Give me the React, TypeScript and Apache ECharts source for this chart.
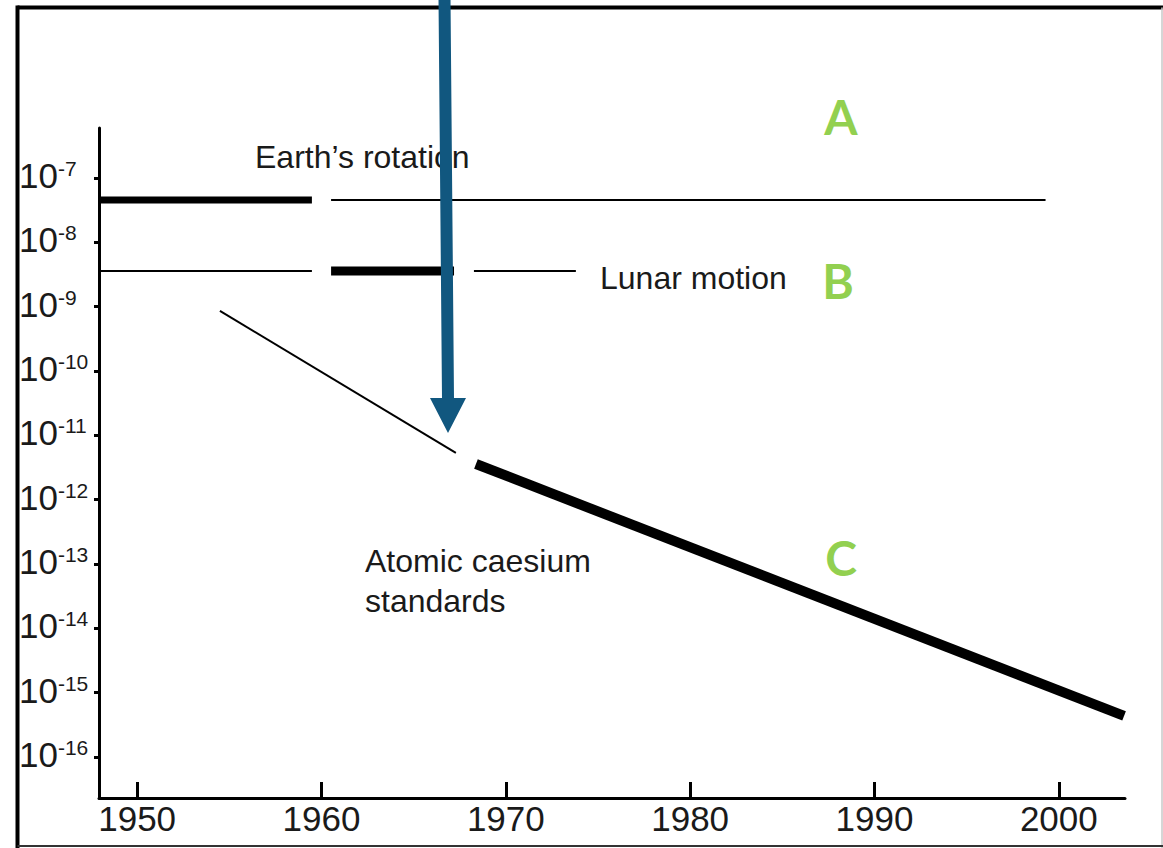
import React, { useEffect, useRef } from "react";
import * as echarts from "echarts";

// ---- data (years vs. relative accuracy) ----
const yearTicks = [1950, 1960, 1970, 1980, 1990, 2000];
const exponentTicks = [-16, -15, -14, -13, -12, -11, -10, -9, -8, -7];
const xRange = [1947.93, 2003.59];
const yRange = [2.3e-17, 5.98e-7];

const earthThick = [[1947.93, 4.55e-8], [1959.48, 4.55e-8]];
const earthThin = [[1960.52, 4.55e-8], [1999.28, 4.55e-8]];
const lunarThin1 = [[1947.93, 3.58e-9], [1959.48, 3.58e-9]];
const lunarThick = [[1960.52, 3.58e-9], [1967.19, 3.58e-9]];
const lunarThin2 = [[1968.27, 3.58e-9], [1973.8, 3.58e-9]];
const caesiumThin = [[1954.49, 8.57e-10], [1967.29, 5.31e-12]];
const caesiumThick = [[1968.38, 3.58e-12], [2003.54, 4.34e-16]];

const FONT = "'Liberation Sans', Arial, sans-serif";
const TEXT = "#1a1a1a";

const toLog = (d: number[][]) => d.map(([x, y]) => [x, Math.log10(y)]);

const seg = (name: string, data: number[][], width: number) => ({
  name,
  type: "line",
  data: toLog(data),
  symbol: "none",
  silent: true,
  clip: false,
  lineStyle: { color: "#000", width, cap: "butt" },
  z: 3,
});

export default function App() {
  const ref = useRef<HTMLDivElement>(null);
  useEffect(() => {
    if (!ref.current) return;
    const chart = echarts.init(ref.current, null, { renderer: "svg" });
    const option: any = {
      animation: false,
      backgroundColor: "#fff",
      grid: { left: 99, right: 38, top: 128, bottom: 50, containLabel: false },
      xAxis: {
        type: "value",
        min: xRange[0],
        max: xRange[1],
        splitLine: { show: false },
        axisLine: { onZero: false, lineStyle: { color: "#000", width: 3 } },
        axisTick: {
          show: true,
          inside: true,
          length: 16,
          customValues: yearTicks,
          lineStyle: { color: "#000", width: 3 },
        },
        axisLabel: {
          customValues: yearTicks,
          margin: 3,
          fontSize: 35,
          color: TEXT,
          fontFamily: FONT,
          formatter: (v: number) => String(v),
        },
      },
      yAxis: {
        type: "value",
        min: Math.log10(yRange[0]),
        max: Math.log10(yRange[1]),
        splitLine: { show: false },
        axisLine: { show: true, onZero: false, lineStyle: { color: "#000", width: 3 } },
        axisTick: {
          show: true,
          length: 5,
          customValues: exponentTicks,
          lineStyle: { color: "#000", width: 3 },
        },
        axisLabel: {
          customValues: exponentTicks,
          align: "left",
          margin: 80,
          padding: [0, 0, 5, 0],
          formatter: (v: number) => `{b|10}{s|${v}}`,
          rich: {
            b: { fontSize: 35, color: TEXT, fontFamily: FONT },
            s: { fontSize: 21, color: TEXT, fontFamily: FONT, verticalAlign: "top", lineHeight: 23 },
          },
        },
      },
      series: [
        seg("Earth thick", earthThick, 7),
        seg("Earth thin", earthThin, 2),
        seg("Lunar thin 1", lunarThin1, 2),
        seg("Lunar thick", lunarThick, 9),
        seg("Lunar thin 2", lunarThin2, 2),
        seg("Caesium thin", caesiumThin, 2),
        seg("Caesium thick", caesiumThick, 10),
      ],
      graphic: [
        // frame
        { type: "line", shape: { x1: 17.5, y1: 7.5, x2: 1163, y2: 7.5 }, style: { stroke: "#000", lineWidth: 4 }, z: 10 },
        { type: "line", shape: { x1: 17.5, y1: 5.5, x2: 17.5, y2: 848 }, style: { stroke: "#000", lineWidth: 4 }, z: 10 },
        { type: "line", shape: { x1: 1162, y1: 7.5, x2: 1162, y2: 848 }, style: { stroke: "#c8c8c8", lineWidth: 1.5 }, z: 10 },
        { type: "line", shape: { x1: 17.5, y1: 846, x2: 1163, y2: 846 }, style: { stroke: "#333", lineWidth: 2 }, z: 10 },
        // annotations
        { type: "text", x: 255, y: 157, style: { text: "Earth\u2019s rotation", fontSize: 32, fontFamily: FONT, fill: TEXT, verticalAlign: "middle", align: "left" }, z: 5 },
        { type: "text", x: 600, y: 278, style: { text: "Lunar motion", fontSize: 32, fontFamily: FONT, fill: TEXT, verticalAlign: "middle", align: "left" }, z: 5 },
        { type: "text", x: 365, y: 561, style: { text: "Atomic caesium", fontSize: 32, fontFamily: FONT, fill: TEXT, verticalAlign: "middle", align: "left" }, z: 5 },
        { type: "text", x: 365, y: 601, style: { text: "standards", fontSize: 32, fontFamily: FONT, fill: TEXT, verticalAlign: "middle", align: "left" }, z: 5 },
        { type: "text", x: 841, y: 116, style: { text: "A", fontSize: 48, fontWeight: "bold", fontFamily: "Lato, 'Open Sans', sans-serif", fill: "#92d050", align: "center", verticalAlign: "middle" }, z: 5 },
        { type: "text", x: 838, y: 280, style: { text: "B", fontSize: 48, fontWeight: "bold", fontFamily: "Lato, 'Open Sans', sans-serif", fill: "#92d050", align: "center", verticalAlign: "middle" }, z: 5 },
        { type: "text", x: 841, y: 557, style: { text: "C", fontSize: 48, fontWeight: "bold", fontFamily: "Lato, 'Open Sans', sans-serif", fill: "#92d050", align: "center", verticalAlign: "middle" }, z: 5 },
        // arrow
        {
          type: "polygon",
          shape: {
            points: [
              [438.5, -2], [450.5, -2], [454, 398], [466, 398], [448, 433], [430, 398], [442, 398],
            ],
          },
          style: { fill: "#11577f" },
          z: 20,
        },
      ],
    };
    chart.setOption(option);
    return () => chart.dispose();
  }, []);
  return (
    <div
      ref={ref}
      style={{ position: "fixed", left: 0, top: 0, width: 1163, height: 848, background: "#fff" }}
    />
  );
}
